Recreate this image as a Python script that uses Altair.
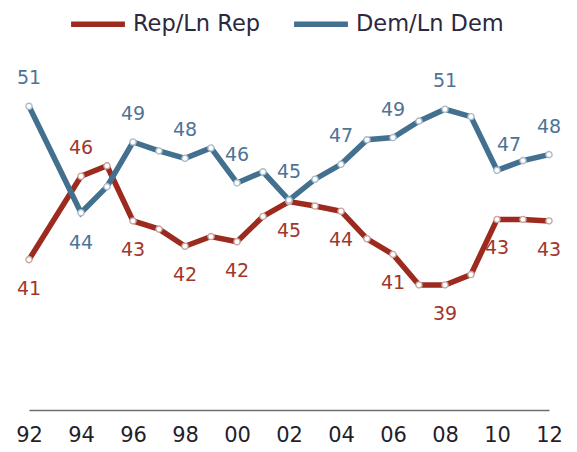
import altair as alt
import pandas as pd

years = [1992, 1994, 1995, 1996, 1997, 1998, 1999, 2000, 2001, 2002, 2003,
         2004, 2005, 2006, 2007, 2008, 2009, 2010, 2011, 2012]
rep = [40.7, 46.3, 47.0, 43.3, 42.75, 41.6, 42.25, 41.9, 43.6, 44.6, 44.3,
       43.95, 42.1, 41.05, 39.0, 39.0, 39.7, 43.4, 43.4, 43.3]
dem = [51.0, 43.85, 45.6, 48.6, 48.0, 47.5, 48.2, 45.85, 46.6, 44.7, 46.1,
       47.1, 48.75, 48.9, 50.0, 50.8, 50.3, 46.7, 47.35, 47.75]

label_years = [1992, 1994, 1996, 1998, 2000, 2002, 2004, 2006, 2008, 2010, 2012]
rep_labels = [41, 46, 43, 42, 42, 45, 44, 41, 39, 43, 43]
dem_labels = [51, 44, 49, 48, 46, 45, 47, 49, 51, 47, 48]

REP = "Rep/Ln Rep"
DEM = "Dem/Ln Dem"
RED = "#9c2a1f"
BLUE = "#44708f"

rows = []
for y, r, d in zip(years, rep, dem):
    rows.append({"year": y, "series": REP, "value": r})
    rows.append({"year": y, "series": DEM, "value": d})
df = pd.DataFrame(rows)

lab_rows = []
for y, rl, dl in zip(label_years, rep_labels, dem_labels):
    i = years.index(y)
    lab_rows.append({"year": y, "series": REP, "value": rep[i], "label": rl})
    lab_rows.append({"year": y, "series": DEM, "value": dem[i], "label": dl})
ldf = pd.DataFrame(lab_rows)

FONT = "DejaVu Sans"

x = alt.X("year:Q", scale=alt.Scale(domain=[1992, 2012], nice=False, zero=False),
          axis=alt.Axis(values=label_years, labelExpr="slice(toString(datum.value), 2)",
                        title=None, grid=False, ticks=False, domain=True,
                        domainColor="#6e6e6e", domainWidth=1.5,
                        labelFont=FONT, labelFontSize=21, labelColor="#1f1f2e",
                        labelPadding=14, labelFlush=False))
y = alt.Y("value:Q", scale=alt.Scale(domain=[30.6, 57.6], nice=False, zero=False),
          axis=None)
color = alt.Color("series:N",
                  scale=alt.Scale(domain=[REP, DEM], range=[RED, BLUE]),
                  legend=alt.Legend(title=None, orient="none", direction="horizontal",
                                    legendX=39, legendY=-14,
                                    symbolType="stroke", symbolSize=2900,
                                    symbolStrokeWidth=5.5, labelOffset=5,
                                    columnPadding=22,
                                    labelFont=FONT, labelFontSize=22.5,
                                    labelColor="#2b2840"))

base = alt.Chart(df)
lines = base.mark_line(strokeWidth=5.5).encode(x=x, y=y, color=color)
points = base.mark_point(filled=False, fill="white", fillOpacity=1, size=38,
                         strokeWidth=1.4, opacity=1).encode(
    x=x, y=y, color=alt.Color("series:N", scale=alt.Scale(domain=[REP, DEM], range=["#c9a6a0", "#a9bccb"]), legend=None))

lbase = alt.Chart(ldf)
tcolor = alt.Color("series:N", scale=alt.Scale(domain=[REP, DEM], range=["#a2362c", "#4f7397"]), legend=None)

def textlayer(flt, dx, dy):
    return lbase.transform_filter(flt).mark_text(
        font=FONT, fontSize=19, baseline="middle", align="center", dx=dx, dy=dy
    ).encode(x=x, y=y, text="label:Q", color=tcolor)

t1 = textlayer(f"datum.series == '{DEM}' && datum.year != 1994 && datum.year != 2010", 0, -28)
t2 = textlayer(f"datum.series == '{DEM}' && datum.year == 1994", 0, 30)
t3 = textlayer(f"datum.series == '{DEM}' && datum.year == 2010", 12, -25)
t4 = textlayer(f"datum.series == '{REP}' && datum.year != 1994", 0, 29)
t5 = textlayer(f"datum.series == '{REP}' && datum.year == 1994", 0, -28)

chart = alt.layer(lines, points, t1, t2, t3, t4, t5).resolve_scale(color="independent").properties(
    width=520, height=402,
    padding={"left": 21, "right": 20, "top": 0, "bottom": 42},
    autosize=alt.AutoSizeParams(type="none"),
    background="white",
).configure_view(stroke=None)

chart.save("out.html", embed_options={"renderer": "svg", "actions": False})
